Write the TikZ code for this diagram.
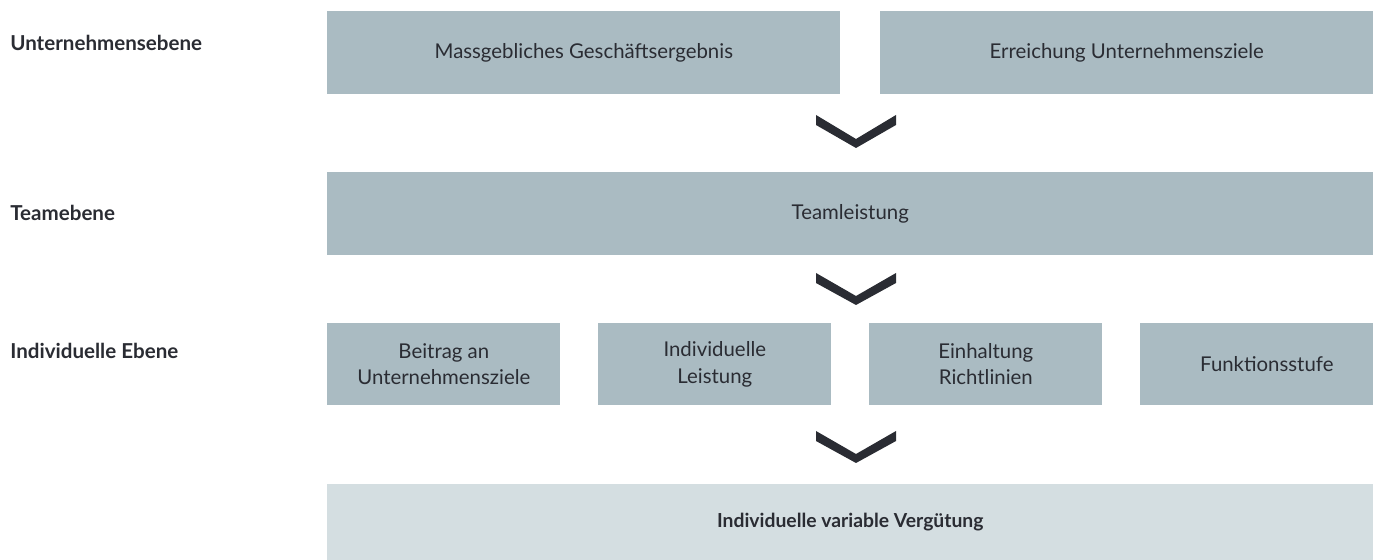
\documentclass[tikz,border=0pt]{standalone}
\usepackage{fontspec}
\setmainfont{Lato}
\usetikzlibrary{positioning}

\definecolor{boxgrey}{HTML}{AABBC2}
\definecolor{boxlight}{HTML}{D4DEE1}
\definecolor{inkdark}{HTML}{2A2C33}

\begin{document}
\begin{tikzpicture}[x=0.02cm,y=-0.02cm,
	lvlbox/.style={fill=boxgrey, draw=none, inner sep=0pt, anchor=north west,
		align=center, text=inkdark, font=\fontsize{11.6}{15}\selectfont},
	sumbox/.style={lvlbox, fill=boxlight, font=\fontsize{11}{15}\selectfont\bfseries},
	lvllabel/.style={anchor=west, inner sep=0pt, text=inkdark, font=\fontsize{11.7}{14}\selectfont\bfseries},
	chevron/.style={fill=inkdark, draw=none}
	]
	\useasboundingbox (0,0) rectangle (1374,560);

	% Unternehmensebene
	\node[lvllabel] (lblfirm) at (10,43) {Unternehmensebene};
	\node[lvlbox, minimum width=10.26cm, minimum height=1.66cm] (result) at (327,11) {Massgebliches Geschäftsergebnis};
	\node[lvlbox, minimum width=9.86cm, minimum height=1.66cm] (goals) at (880,11) {Erreichung Unternehmensziele};

	\fill[chevron] (816,115) -- (856,139) -- (896,115) -- (896,125) -- (856,148) -- (816,125) -- cycle;

	% Teamebene
	\node[lvllabel] (lblteam) at (10,213) {Teamebene};
	\node[lvlbox, minimum width=20.92cm, minimum height=1.66cm] (team) at (327,172) {Teamleistung};

	\fill[chevron] (816,273) -- (856,296) -- (896,273) -- (896,283) -- (856,305) -- (816,283) -- cycle;

	% Individuelle Ebene
	\node[lvllabel] (lblindiv) at (10,351) {Individuelle Ebene};
	\node[lvlbox, minimum width=4.66cm, minimum height=1.64cm] (contrib) at (327,323) {Beitrag an\\Unternehmensziele};
	\node[lvlbox, minimum width=4.66cm, minimum height=1.64cm] (perf) at (598,323) {Individuelle\\Leistung};
	\node[lvlbox, minimum width=4.66cm, minimum height=1.64cm] (rules) at (869,323) {Einhaltung\\Richtlinien};
	\node[lvlbox, minimum width=4.66cm, minimum height=1.64cm] (grade) at (1140,323) {\hspace*{0.4cm}Funktionsstufe};

	\fill[chevron] (816,431) -- (856,454) -- (896,431) -- (896,441) -- (856,463) -- (816,441) -- cycle;

	% Vergütung
	\node[sumbox, minimum width=20.92cm, minimum height=1.52cm] (pay) at (327,484) {Individuelle variable Vergütung};
\end{tikzpicture}
\end{document}
